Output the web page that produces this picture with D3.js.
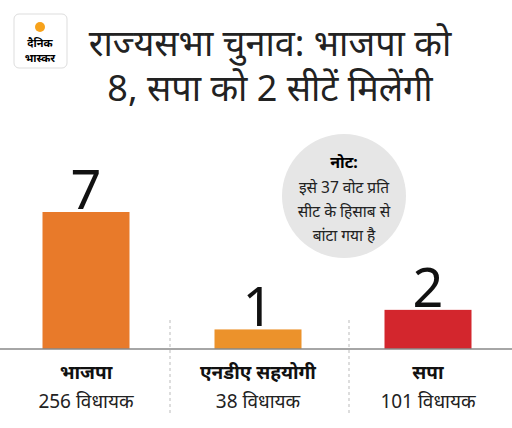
<!DOCTYPE html>
<html><head><meta charset="utf-8">
<script src="https://cdn.jsdelivr.net/npm/d3@7"></script>
<style>body{margin:0;background:#fff}svg{font-family:"Noto Sans","Noto Sans Devanagari",sans-serif}</style>
</head><body><svg id="c" width="512" height="428"></svg>
<script>
// ── Data ──────────────────────────────────────────────────────────────────────
const parties = ["भाजपा", "एनडीए सहयोगी", "सपा"];
const seats = [7, 1, 2];
const mlas = ["256 विधायक", "38 विधायक", "101 विधायक"];
const colors = ["#e87a2a", "#ec922b", "#d3262d"];
const noteLines = ["इसे 37 वोट प्रति", "सीट के हिसाब से", "बांटा गया है"];

const svg = d3.select("#c");
const base = 349;

// ── Header ────────────────────────────────────────────────────────────────────
const logo = svg.append("g");
logo.append("rect").attr("x", 14).attr("y", 14).attr("width", 53).attr("height", 54)
  .attr("rx", 5).attr("fill", "#fff").attr("stroke", "#ddd");
logo.append("circle").attr("cx", 40).attr("cy", 27).attr("r", 5).attr("fill", "#f7a21b");
logo.append("text").attr("x", 40).attr("y", 47).attr("text-anchor", "middle")
  .attr("font-size", 11).attr("font-weight", 700).text("दैनिक");
logo.append("text").attr("x", 40).attr("y", 62).attr("text-anchor", "middle")
  .attr("font-size", 11).attr("font-weight", 700).text("भास्कर");

svg.append("text").attr("x", 270).attr("y", 56).attr("text-anchor", "middle")
  .attr("font-size", 36).attr("fill", "#222").text("राज्यसभा चुनाव: भाजपा को");
svg.append("text").attr("x", 270).attr("y", 101).attr("text-anchor", "middle")
  .attr("font-size", 36).attr("fill", "#222").text("8, सपा को 2 सीटें मिलेंगी");

// ── Note ──────────────────────────────────────────────────────────────────────
svg.append("circle").attr("cx", 344).attr("cy", 196).attr("r", 62).attr("fill", "#e6e6e6");
svg.append("text").attr("x", 344).attr("y", 168).attr("text-anchor", "middle")
  .attr("font-size", 16).attr("font-weight", 700).text("नोट:");
svg.selectAll(".note").data(noteLines).join("text")
  .attr("x", 344).attr("y", (d, i) => 193 + i * 24).attr("text-anchor", "middle")
  .attr("font-size", 15.5).attr("fill", "#222").text(d => d);

// ── Bars ──────────────────────────────────────────────────────────────────────
const cx = d3.scaleOrdinal().domain(parties).range([86, 258, 428]);
const y = d3.scaleLinear().domain([0, 7]).range([base, 212]);
const bw = 87;

[170, 349].forEach(sx => svg.append("line").attr("x1", sx).attr("x2", sx)
  .attr("y1", 320).attr("y2", 416).attr("stroke", "#bbb").attr("stroke-dasharray", "3,3"));

svg.selectAll(".bar").data(parties).join("rect")
  .attr("x", d => cx(d) - bw / 2).attr("width", bw)
  .attr("y", (d, i) => y(seats[i])).attr("height", (d, i) => base - y(seats[i]))
  .attr("fill", (d, i) => colors[i]);

svg.selectAll(".val").data(parties).join("text")
  .attr("x", d => cx(d)).attr("y", (d, i) => y(seats[i]) - 3)
  .attr("text-anchor", "middle").attr("font-size", 54).attr("fill", "#111")
  .text((d, i) => seats[i]);

svg.append("line").attr("x1", 0).attr("x2", 512).attr("y1", base).attr("y2", base)
  .attr("stroke", "#888").attr("stroke-width", 1.5);

svg.selectAll(".cat").data(parties).join("text")
  .attr("x", d => cx(d)).attr("y", 379).attr("text-anchor", "middle")
  .attr("font-size", 19).attr("font-weight", 700).attr("fill", "#111").text(d => d);
svg.selectAll(".sub").data(mlas).join("text")
  .attr("x", (d, i) => cx(parties[i])).attr("y", 408).attr("text-anchor", "middle")
  .attr("font-size", 19).attr("fill", "#222").text(d => d);
</script></body></html>
